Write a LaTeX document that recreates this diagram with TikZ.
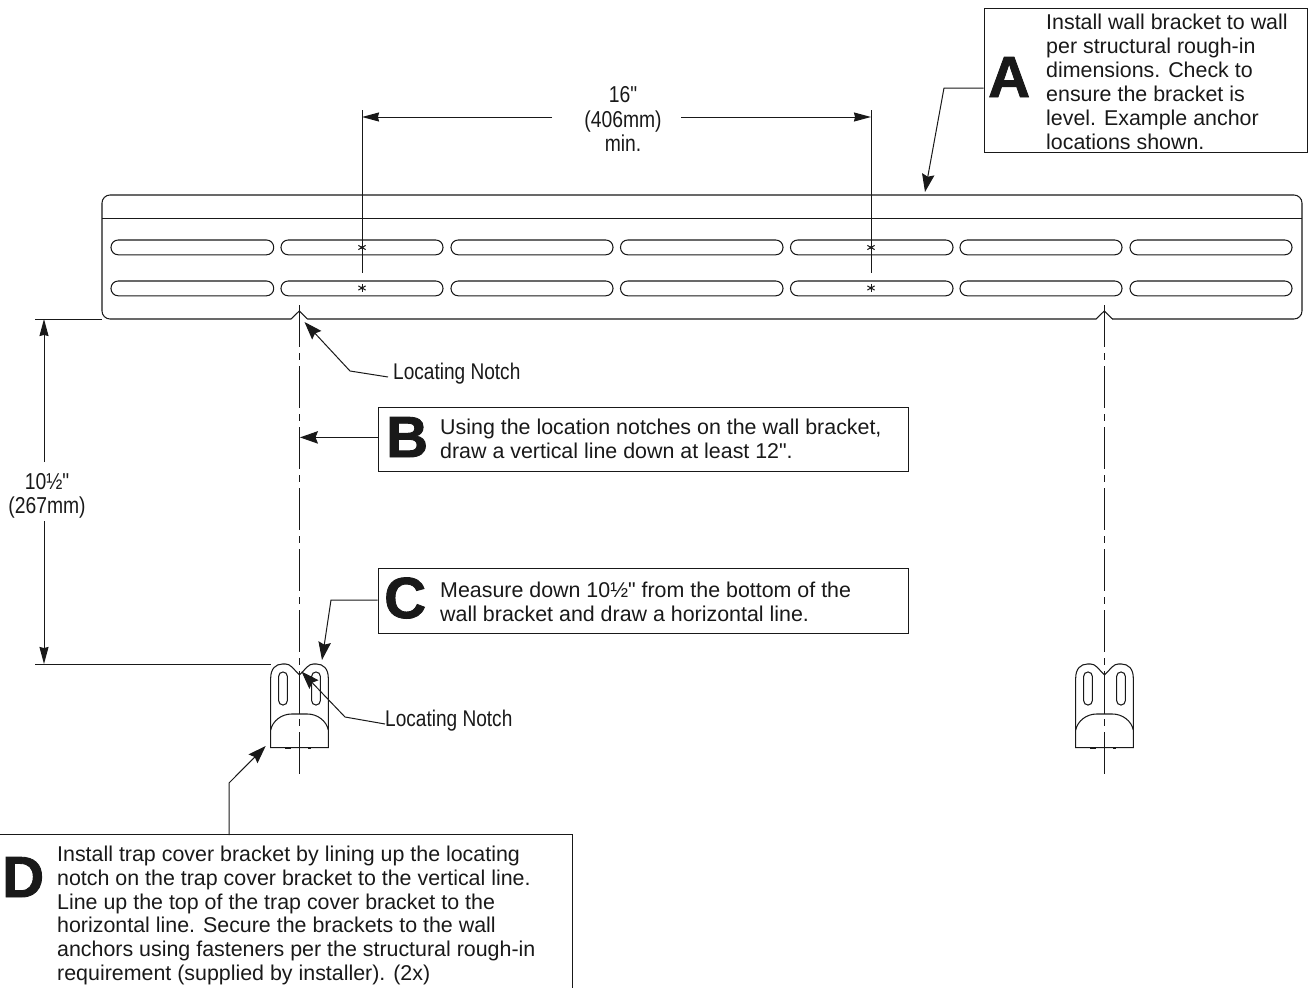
\documentclass[tikz,border=0pt]{standalone}
\usepackage{fontspec}
\setmainfont{Liberation Sans}
\newfontfamily\plainfont{Liberation Sans}
\newfontfamily\condfont[FakeStretch=0.84]{Liberation Sans}
\newfontfamily\blackfont[FakeBold=1.5]{Liberation Sans Bold}
\usetikzlibrary{arrows.meta}
\definecolor{ink}{gray}{0.1}
\newcommand{\qmark}{{\plainfont"}}
\tikzset{
  ln/.style={draw=ink,line width=1.05pt},
  thin ln/.style={draw=ink,line width=0.9pt},
  leader/.style={draw=ink,line width=1pt,-{Stealth[length=18pt,width=12.5pt,inset=2.5pt]}},
  dimarrow/.style={draw=ink,line width=1pt,-{Stealth[length=17pt,width=9pt,inset=1pt]}},
  callout/.style={draw=ink,line width=1pt,fill=white,inner sep=0pt,rectangle},
  body/.style={anchor=north west,inner sep=0pt,text=ink,align=left,font=\fontsize{21.4}{23.9}\selectfont},
  bigletter/.style={anchor=base west,inner sep=0pt,text=ink,font=\fontsize{58}{58}\blackfont},
  cond/.style={inner sep=0pt,text=ink,align=center,font=\fontsize{23}{24.4}\condfont},
  notchlabel/.style={inner sep=0pt,text=ink,anchor=west,font=\fontsize{22.7}{24.4}\condfont},
  centre line/.style={draw=ink,line width=1.05pt,dash pattern=on 42pt off 6pt on 7pt off 6pt},
  slot/.style={ln,rounded corners=7.2pt},
}
\begin{document}
\begin{tikzpicture}[x=1pt,y=-1pt]
\useasboundingbox (0,0) rectangle (1310,988);
% wall bracket
\draw[ln,rounded corners=8pt] (1112,319) -- (1302,319) -- (1302,195) -- (102,195) -- (102,319) -- (291,319);
\draw[ln] (291,319) -- (299.3,311) -- (307.5,319) -- (1096,319) -- (1104.3,311) -- (1112.5,319);
\draw[ln] (102,218.4) -- (1302,218.4);
\foreach \a/\b in {111/273.7,281/443,451/613,620.5/783,790.5/953,960/1122,1130/1292}{
  \draw[slot] (\a,240) rectangle (\b,254.8);
  \draw[slot] (\a,281) rectangle (\b,295.8);
}
\foreach \px/\py in {362/247.5,362/288,871/247.5,871/288}{
  \fill[ink] (\px,\py) circle (1.7pt);
  \foreach \ang in {0,60,120}{
    \draw[draw=ink,line width=1pt,shift={(\px,\py)}] (\ang+30:4.2pt) -- (\ang+210:4.2pt);
  }
}
% trap cover brackets and centre lines
\foreach \c in {299.5,1104.5}{
  \begin{scope}[xshift=\c pt]
    \draw[ln] (-28.8,747.7) -- (-28.8,678) .. controls (-28.8,669) and (-24,664) .. (-17,664)
      -- (-14,664) .. controls (-9,664) and (-7,668) .. (0,675)
      .. controls (7,668) and (9,664) .. (14,664) -- (17,664)
      .. controls (24,664) and (28.8,669) .. (28.8,678) -- (28.8,747.7) -- cycle;
    \draw[ln] (-28.8,730) .. controls (-27,721) and (-18,714) .. (-8,714) -- (8,714)
      .. controls (18,714) and (27,721) .. (28.8,730);
    \draw[ln,rounded corners=4.2pt] (-20.8,672) rectangle (-12.2,705);
    \draw[ln,rounded corners=4.2pt] (12.2,672) rectangle (20.8,705);
    \draw[ln] (0,675) -- (0,714);
    \draw[draw=ink,line width=1.8pt] (-15,747.7) -- (-9,747.7) (8,747.7) -- (11,747.7);
    \draw[centre line] (-0.2,305) -- (-0.2,775);
  \end{scope}
}
% dimension 16"
\coordinate (dimL) at (362,117);
\coordinate (dimR) at (871,117);
\coordinate (dimLstart) at (552,117);
\coordinate (dimRstart) at (681,117);
\draw[thin ln] (362,110) -- (362,273);
\draw[thin ln] (871,110) -- (871,273);
\draw[dimarrow] (dimLstart) -- (dimL);
\draw[dimarrow] (dimRstart) -- (dimR);
\node[cond] (dimtop) at (623,119) {16"\\(406mm)\\min.};
% dimension 10 1/2
\coordinate (dimT) at (44,319);
\coordinate (dimB) at (44,664);
\coordinate (dimTs) at (44,462);
\coordinate (dimBs) at (44,521);
\draw[thin ln] (35,319) -- (102,319);
\draw[thin ln] (35,664) -- (271,664);
\draw[dimarrow] (dimTs) -- (dimT);
\draw[dimarrow] (dimBs) -- (dimB);
\node[cond] (dimleft) at (47,496) {10½"\\(267mm)};
% callout A
\node[callout,minimum width=323pt,minimum height=144pt] (boxA) at (1145.5,80) {};
\node[bigletter] (letA) at (988,97) {A};
\node[body] (txtA) at (1046,14) {Install wall bracket to wall\\per structural rough-in\\dimensions. Check to\\ensure the bracket is\\level. Example anchor\\locations shown.};
\coordinate (aE) at (944,88);
\coordinate (aT) at (925,192);
\draw[leader] ([yshift=-8pt]boxA.west) -- (aE) -- (aT);
% callout B
\node[callout,minimum width=530pt,minimum height=64pt] (boxB) at (643,439) {};
\node[bigletter] (letB) at (386,457) {B};
\node[body] (txtB) at (440,419) {Using the location notches on the wall bracket,\\draw a vertical line down at least 12\qmark.};
\coordinate (bT) at (300,437.4);
\draw[leader] (boxB.west |- bT) -- (bT);
% callout C
\node[callout,minimum width=530pt,minimum height=65pt] (boxC) at (643,600.5) {};
\node[bigletter] (letC) at (384,618) {C};
\node[body] (txtC) at (440,582) {Measure down 10½\qmark{} from the bottom of the\\wall bracket and draw a horizontal line.};
\coordinate (cE) at (331,600);
\coordinate (cT) at (322,660);
\draw[leader] (boxC.west |- cE) -- (cE) -- (cT);
% callout D
\node[draw=none,inner sep=0pt,minimum width=572pt,minimum height=153pt] (boxD) at (286,911.5) {};
\draw[ln] (boxD.north west) -- (boxD.north east) -- (boxD.south east);
\node[bigletter] (letD) at (2,897) {D};
\node[body] (txtD) at (57,845.5) {Install trap cover bracket by lining up the locating\\notch on the trap cover bracket to the vertical line.\\Line up the top of the trap cover bracket to the\\horizontal line. Secure the brackets to the wall\\anchors using fasteners per the structural rough-in\\requirement (supplied by installer). (2x)};
\coordinate (dS) at (229,835);
\coordinate (dE) at (229,783);
\coordinate (dT) at (265.7,746);
\draw[leader] (dS) -- (dE) -- (dT);
% locating notches
\node[notchlabel] (ln1) at (393,374) {Locating Notch};
\coordinate (n1E) at (350,371);
\coordinate (n1T) at (304.5,322);
\draw[leader] ([xshift=-5pt,yshift=-3pt]ln1.west) -- (n1E) -- (n1T);
\node[notchlabel] (ln2) at (385,720.5) {Locating Notch};
\coordinate (n2E) at (345,717);
\coordinate (n2T) at (301.5,671.5);
\draw[leader] ([yshift=-3.5pt]ln2.west) -- (n2E) -- (n2T);
\end{tikzpicture}
\end{document}
